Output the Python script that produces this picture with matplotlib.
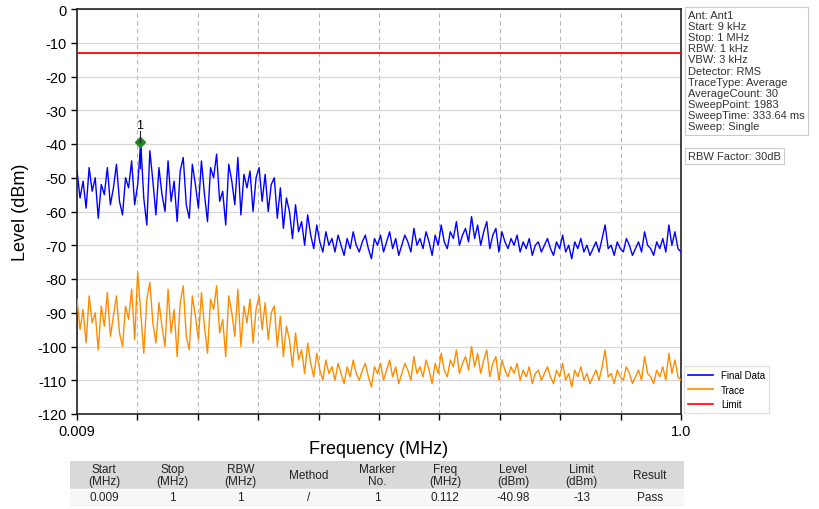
import numpy as np
import matplotlib
matplotlib.use("Agg")
import matplotlib.pyplot as plt
from matplotlib.patches import Rectangle
from matplotlib.lines import Line2D

plt.rcParams['font.family'] = ['Liberation Sans', 'DejaVu Sans']
plt.rcParams['axes.unicode_minus'] = False

# ---------------- data ----------------
f_start, f_stop = 0.009, 1.0
limit_level = -13

final_data = [
    -48, -56, -51, -59, -47, -54, -50, -62, -52, -55,
    -47, -58, -53, -46, -57, -61, -50, -53, -45, -58,
    -52, -39.5, -56, -64, -42, -51, -61, -47, -55, -60,
    -45, -57, -51, -63, -48, -44, -58, -62, -46, -52,
    -59, -45, -55, -63, -47, -50, -43, -57, -54, -64,
    -46, -51, -58, -44, -61, -49, -53, -48, -60, -50,
    -47, -57, -49, -60, -52, -50, -62, -53, -65, -56,
    -60, -68, -58, -66, -63, -70, -61, -67, -71, -64,
    -69, -72,
    -66, -70, -68, -72, -67, -70, -73, -68, -71, -66,
    -70, -72, -69, -67, -71, -74, -68, -70, -67, -72,
    -69, -66, -71, -68, -73, -70, -67, -69, -72, -65,
    -70, -68, -71, -66, -69, -73, -67, -70, -64, -69,
    -71, -66, -68, -63, -70, -67, -65, -69, -61.5, -68,
    -64, -70, -66, -63, -71, -67, -65, -72, -66, -69,
    -71, -68, -70, -67, -72, -69, -71, -68, -73, -70,
    -69, -72, -70, -68, -71, -73, -69, -71, -67, -72,
    -70, -74, -69, -71, -68, -72, -70, -73, -71, -69,
    -72, -68, -64, -71, -70, -73, -69, -71, -72, -68,
    -70, -73, -71, -69, -72, -66, -70, -71, -73, -69,
    -71, -68, -72, -64, -70, -66, -71, -72,
]

trace = [
    -86, -95, -89, -99, -85, -93, -90, -101, -88, -94,
    -84, -97, -91, -85, -96, -100, -88, -92, -83, -98,
    -78, -90, -102, -86, -81, -93, -99, -87, -94, -100,
    -83, -96, -89, -103, -87, -82, -97, -101, -85, -91,
    -98, -84, -94, -102, -86, -89, -82, -96, -92, -103,
    -85, -90, -97, -83, -100, -88, -93, -86, -99, -89,
    -85, -95, -87, -98, -90, -88, -100, -91, -103, -94,
    -98, -106, -96, -104, -101, -108, -99, -105, -109, -102,
    -107, -110,
    -104, -108, -106, -110, -105, -108, -111, -106, -109, -104,
    -108, -110, -107, -105, -109, -112, -106, -108, -105, -110,
    -107, -104, -109, -106, -111, -108, -105, -107, -110, -103,
    -108, -106, -109, -104, -107, -111, -105, -108, -102, -107,
    -109, -104, -106, -101, -108, -105, -103, -107, -100, -106,
    -102, -108, -104, -101, -109, -105, -103, -110, -104, -107,
    -109, -106, -108, -105, -110, -107, -109, -106, -111, -108,
    -107, -110, -108, -106, -109, -111, -107, -109, -105, -110,
    -108, -112, -107, -109, -106, -110, -108, -111, -109, -107,
    -110, -106, -101, -109, -108, -111, -107, -109, -110, -106,
    -108, -111, -109, -107, -110, -103, -108, -109, -111, -107,
    -109, -106, -110, -102, -108, -104, -109, -110,
]

marker_freq = 0.112
marker_plot_level = -39.5

y_ticks = list(range(0, -130, -10))
x_tick_labels = ["0.009", "", "", "", "", "", "", "", "", "", "1.0"]

info_lines = [
    "Ant: Ant1", "Start: 9 kHz", "Stop: 1 MHz", "RBW: 1 kHz", "VBW: 3 kHz",
    "Detector: RMS", "TraceType: Average", "AverageCount: 30",
    "SweepPoint: 1983", "SweepTime: 333.64 ms", "Sweep: Single",
]
rbw_factor = "RBW Factor: 30dB"

table_headers = ["Start\n(MHz)", "Stop\n(MHz)", "RBW\n(MHz)", "Method", "Marker\nNo.",
                 "Freq\n(MHz)", "Level\n(dBm)", "Limit\n(dBm)", "Result"]
table_values = ["0.009", "1", "1", "/", "1", "0.112", "-40.98", "-13", "Pass"]

# ---------------- figure ----------------
W, H = 819, 510
fig = plt.figure(figsize=(W / 100, H / 100), dpi=100)
ax = fig.add_axes([77 / W, 1 - 415 / H, 604 / W, 405 / H])

fd_x = np.linspace(f_start, f_stop, len(final_data))
tr_x = np.linspace(f_start, f_stop, len(trace))
ax.plot(fd_x, final_data, color='#0000ff', lw=1.0, label='Final Data', zorder=3)
ax.plot(tr_x, trace, color='#ff8c00', lw=1.0, label='Trace', zorder=3)
ax.axhline(limit_level, color='#ff0000', lw=1.3, label='Limit', zorder=3)

ax.plot([marker_freq, marker_freq], [marker_plot_level, -47], color='#0000ff', lw=1.0, zorder=3)
ax.plot([marker_freq], [marker_plot_level], marker='D', color='#1a8a1a', ms=5.5, zorder=4)
ax.plot([marker_freq, marker_freq], [marker_plot_level, marker_plot_level + 3.5], color='#222222', lw=0.8, zorder=4)
ax.text(marker_freq, marker_plot_level + 3.3, "1", ha='center', va='bottom', fontsize=9)

ax.set_xlim(f_start, f_stop)
ax.set_ylim(-120, 0)
xt = np.linspace(f_start, f_stop, len(x_tick_labels))
ax.set_xticks(xt)
ax.set_xticklabels(x_tick_labels, fontsize=10.5)
ax.set_yticks(y_ticks)
ax.set_yticklabels([str(v) for v in y_ticks], fontsize=10.5)
ax.tick_params(direction='out', length=4, width=1, colors='black')

ax.grid(axis='y', color='#d8d8d8', lw=0.9, ls='-')
ax.grid(axis='x', color='#b8b8b8', lw=0.8, ls=(0, (4, 3)))
ax.set_axisbelow(True)
for s in ax.spines.values():
    s.set_color('#222222')
    s.set_linewidth(1.2)

ax.set_ylabel("Level (dBm)", fontsize=13, labelpad=6)
ax.set_xlabel("Frequency (MHz)", fontsize=13, labelpad=1)

# legend
handles = [Line2D([], [], color='#0000ff', lw=1.2),
           Line2D([], [], color='#ff8c00', lw=1.2),
           Line2D([], [], color='#ff0000', lw=1.2)]
leg = fig.legend(handles, ['Final Data', 'Trace', 'Limit'], loc='lower left',
                 bbox_to_anchor=(684 / W, 1 - 414 / H), fontsize=7,
                 frameon=True, fancybox=False, edgecolor='#dddddd',
                 handlelength=2.6, borderpad=0.4, labelspacing=0.45,
                 handletextpad=0.8, borderaxespad=0)

# info box
fig.text(688 / W, 1 - 11 / H, "\n".join(info_lines), fontsize=8, va='top', ha='left',
         linespacing=1.14, color='#333333',
         bbox=dict(boxstyle='square,pad=0.3', fc='white', ec='#cccccc', lw=0.8))
fig.text(688 / W, 1 - 157 / H, rbw_factor, fontsize=8, va='center', ha='left', color='#333333',
         bbox=dict(boxstyle='square,pad=0.3', fc='white', ec='#cccccc', lw=0.8))

# table
tax = fig.add_axes([70 / W, 1 - 507 / H, 614 / W, 45 / H])
tax.set_xlim(0, len(table_headers))
tax.set_ylim(0, 45)
tax.axis('off')
tax.add_patch(Rectangle((0, 17), len(table_headers), 28, fc='#d9d9d9', ec='none'))
tax.add_patch(Rectangle((0, 0), len(table_headers), 17, fc='#f7f7f7', ec='none'))
tax.plot([0, len(table_headers)], [17, 17], color='#ffffff', lw=1)
tax.plot([0, len(table_headers)], [0.5, 0.5], color='#cccccc', lw=1)
for i, (h, v) in enumerate(zip(table_headers, table_values)):
    tax.text(i + 0.5, 31, h, ha='center', va='center', fontsize=8.5, linespacing=1.05, color='#222222')
    tax.text(i + 0.5, 8.5, v, ha='center', va='center', fontsize=8.5, color='#222222')

fig.savefig("out.png", dpi=100)
